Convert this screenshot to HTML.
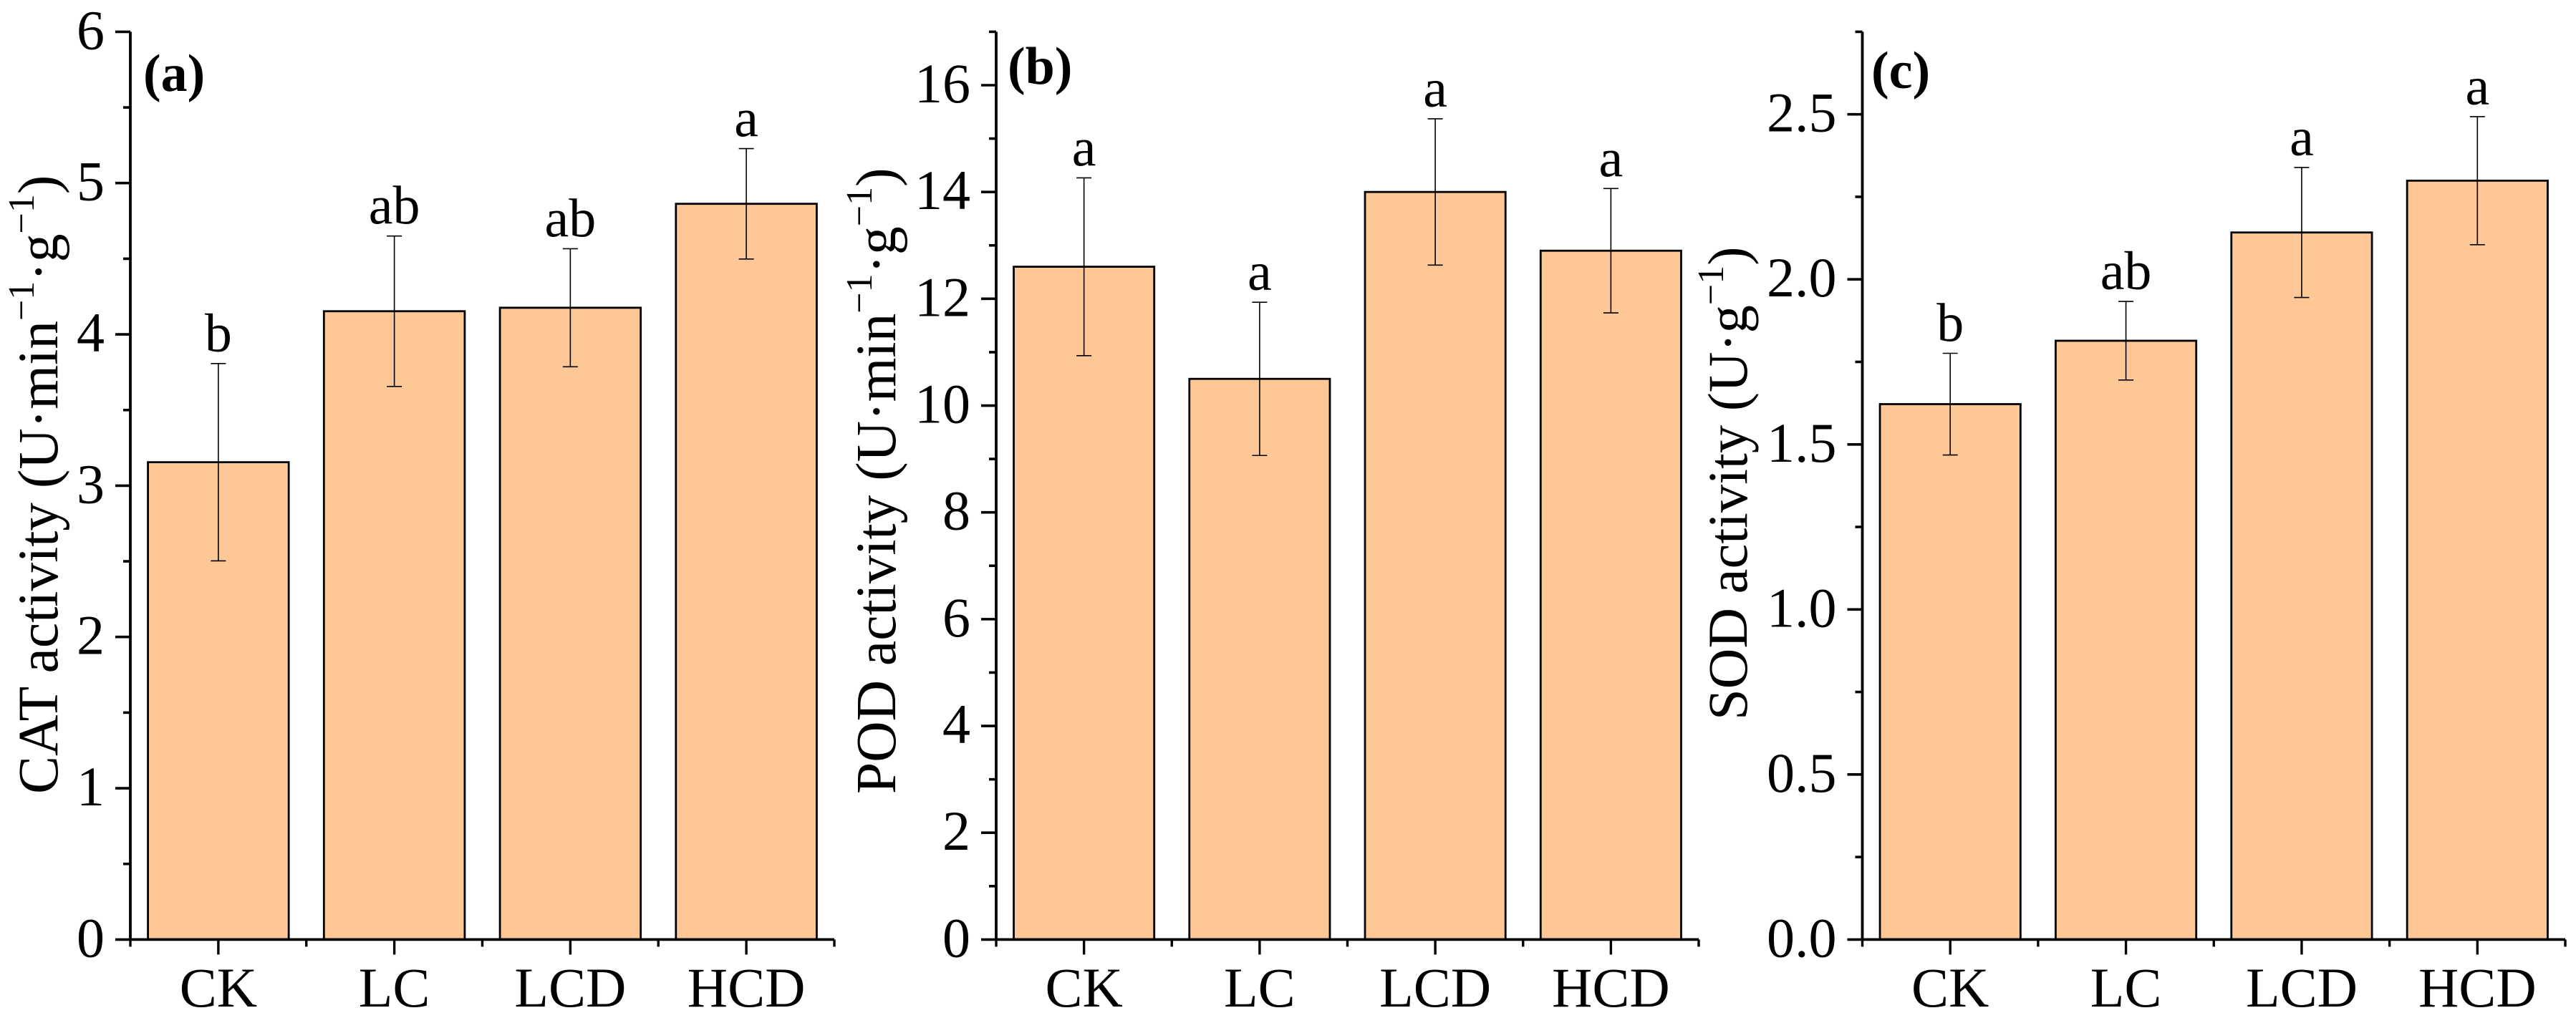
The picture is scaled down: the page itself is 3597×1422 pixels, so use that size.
<!DOCTYPE html>
<html lang="en">
<head>
<meta charset="utf-8">
<title>CAT, POD and SOD activity</title>
<style>
  html, body { margin: 0; padding: 0; background: #fff; }
  svg { display: block; }
  text { font-family: "Liberation Serif", "Times New Roman", serif; fill: #000; }
  .tick-label { font-size: 78px; }
  .axis-title { font-size: 79.5px; }
  .axis-title-short { font-size: 78.5px; }
  .sup { font-size: 52px; }
  .panel-tag { font-size: 74px; font-weight: bold; }
  .sig { font-size: 76px; }
</style>
</head>
<body>
<svg id="figure" xmlns="http://www.w3.org/2000/svg" width="3597" height="1422" viewBox="0 0 3597 1422">
  <rect x="0" y="0" width="3597" height="1422" fill="#ffffff"/>

  <g id="panel-a">
    <g id="marks-a"></g>
    <text class="panel-tag" x="200" y="127">(a)</text>
    <text class="axis-title" transform="translate(80 1109) rotate(-90)">CAT activity (U·min<tspan class="sup" dy="-33">−1</tspan><tspan dy="33">·g</tspan><tspan class="sup" dy="-33">−1</tspan><tspan dy="33">)</tspan></text>
  </g>

  <g id="panel-b">
    <g id="marks-b"></g>
    <text class="panel-tag" x="1407" y="117">(b)</text>
    <text class="axis-title" transform="translate(1250 1109) rotate(-90)">POD activity (U·min<tspan class="sup" dy="-33">−1</tspan><tspan dy="33">·g</tspan><tspan class="sup" dy="-33">−1</tspan><tspan dy="33">)</tspan></text>
  </g>

  <g id="panel-c">
    <g id="marks-c"></g>
    <text class="panel-tag" x="2613" y="123">(c)</text>
    <text class="axis-title-short" transform="translate(2439 1006) rotate(-90)">SOD activity (U·g<tspan class="sup" dy="-33">−1</tspan><tspan dy="33">)</tspan></text>
  </g>
</svg>

<script>
// Shared categories
const categories = ['CK', 'LC', 'LCD', 'HCD'];

// Panel (a) CAT
const catValues = [3.155, 4.153, 4.176, 4.863];
const catErrors = [0.652, 0.497, 0.390, 0.365];
const catLetters = ['b', 'ab', 'ab', 'a'];
const catMajorTicks = [0, 1, 2, 3, 4, 5, 6];
const catTickLabels = ['0', '1', '2', '3', '4', '5', '6'];
const catMinorTicks = [0.5, 1.5, 2.5, 3.5, 4.5, 5.5];

// Panel (b) POD
const podValues = [12.6, 10.5, 14.0, 12.9];
const podErrors = [1.665, 1.435, 1.37, 1.165];
const podLetters = ['a', 'a', 'a', 'a'];
const podMajorTicks = [0, 2, 4, 6, 8, 10, 12, 14, 16];
const podTickLabels = ['0', '2', '4', '6', '8', '10', '12', '14', '16'];
const podMinorTicks = [1, 3, 5, 7, 9, 11, 13, 15, 17];

// Panel (c) SOD
const sodValues = [1.622, 1.814, 2.142, 2.299];
const sodErrors = [0.154, 0.119, 0.197, 0.194];
const sodLetters = ['b', 'ab', 'a', 'a'];
const sodMajorTicks = [0, 0.5, 1.0, 1.5, 2.0, 2.5];
const sodTickLabels = ['0.0', '0.5', '1.0', '1.5', '2.0', '2.5'];
const sodMinorTicks = [0.25, 0.75, 1.25, 1.75, 2.25, 2.75];

const NS = 'http://www.w3.org/2000/svg';

function make(parent, tag, attrs, text) {
  const el = document.createElementNS(NS, tag);
  Object.keys(attrs).forEach(function (k) { el.setAttribute(k, attrs[k]); });
  if (text !== undefined) el.textContent = text;
  parent.appendChild(el);
  return el;
}

function drawPanel(cfg) {
  const root = document.getElementById(cfg.target);
  const plotTop = 44.4, plotBottom = 1312.4;
  const x = function (i) { return cfg.left + (i + 0.5) * (cfg.right - cfg.left) / categories.length; };
  const y = function (v) { return plotBottom - (v / cfg.yMax) * (plotBottom - plotTop); };
  const band = (cfg.right - cfg.left) / categories.length;
  const barWidth = band * 0.8;

  categories.forEach(function (cat, i) {
    const bar = make(root, 'rect', {
      x: x(i) - barWidth / 2, y: y(cfg.values[i]), width: barWidth, height: plotBottom - y(cfg.values[i]),
      fill: '#FEC896', stroke: '#000', 'stroke-width': 2.8
    });
    
    
  });

  categories.forEach(function (cat, i) {
    const hi = y(cfg.values[i] + cfg.errors[i]);
    const lo = y(cfg.values[i] - cfg.errors[i]);
    const d = 'M' + x(i) + ' ' + hi + 'V' + lo +
      'M' + (x(i) - 10.5) + ' ' + hi + 'H' + (x(i) + 10.5) +
      'M' + (x(i) - 10.5) + ' ' + lo + 'H' + (x(i) + 10.5);
    const err = make(root, 'path', { d: d, fill: 'none', stroke: '#000', 'stroke-width': 1.6 });
    
    

    const letter = make(root, 'text', { class: 'sig', x: x(i), y: hi - 17, 'text-anchor': 'middle' }, cfg.letters[i]);
    
    
  });

  const yAxis = make(root, 'path', {
    d: 'M' + cfg.left + ' ' + plotTop + 'V' + plotBottom, fill: 'none', stroke: '#000', 'stroke-width': 3.8
  });
  
  

  const xAxis = make(root, 'path', {
    d: 'M' + cfg.left + ' ' + plotBottom + 'H' + cfg.right, fill: 'none', stroke: '#000', 'stroke-width': 3.8
  });
  
  

  cfg.majorTicks.forEach(function (t, i) {
    const tick = make(root, 'path', {
      d: 'M' + (cfg.left - 21) + ' ' + y(t) + 'H' + cfg.left, stroke: '#000', 'stroke-width': 3.6
    });
    
    

    const label = make(root, 'text', {
      class: 'tick-label', x: cfg.left - 36, y: y(t) + 24, 'text-anchor': 'end'
    }, cfg.tickLabels[i]);
    
    
  });

  cfg.minorTicks.forEach(function (t) {
    const tick = make(root, 'path', {
      d: 'M' + (cfg.left - 10) + ' ' + y(t) + 'H' + cfg.left, stroke: '#000', 'stroke-width': 3.6
    });
    
    
  });

  categories.forEach(function (cat, i) {
    const tick = make(root, 'path', {
      d: 'M' + x(i) + ' ' + plotBottom + 'V' + (plotBottom + 21), stroke: '#000', 'stroke-width': 3.4
    });
    
    

    const label = make(root, 'text', {
      class: 'tick-label', x: x(i), y: 1406, 'text-anchor': 'middle'
    }, cat);
    
    
  });

  for (let i = 0; i <= categories.length; i++) {
    const tx = cfg.left + i * band;
    const tick = make(root, 'path', {
      d: 'M' + tx + ' ' + plotBottom + 'V' + (plotBottom + 10), stroke: '#000', 'stroke-width': 3.4
    });
    
    
  }
}

drawPanel({ id: 'cat', target: 'marks-a', left: 182, right: 1165, yMax: 6,
  values: catValues, errors: catErrors, letters: catLetters,
  majorTicks: catMajorTicks, tickLabels: catTickLabels, minorTicks: catMinorTicks });
drawPanel({ id: 'pod', target: 'marks-b', left: 1391, right: 2372, yMax: 17,
  values: podValues, errors: podErrors, letters: podLetters,
  majorTicks: podMajorTicks, tickLabels: podTickLabels, minorTicks: podMinorTicks });
drawPanel({ id: 'sod', target: 'marks-c', left: 2600.5, right: 3582, yMax: 2.75,
  values: sodValues, errors: sodErrors, letters: sodLetters,
  majorTicks: sodMajorTicks, tickLabels: sodTickLabels, minorTicks: sodMinorTicks });
</script>
</body>
</html>
